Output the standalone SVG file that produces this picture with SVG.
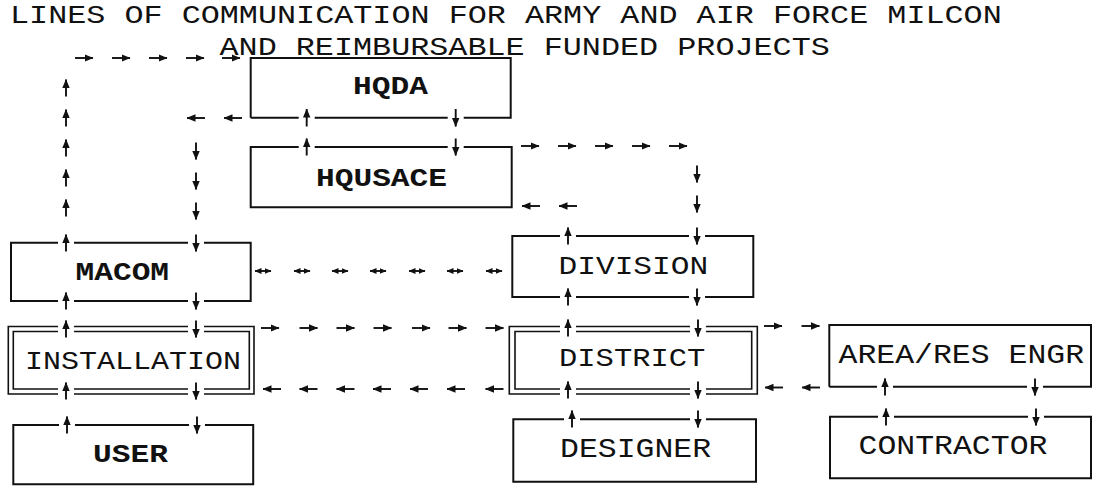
<svg xmlns="http://www.w3.org/2000/svg" width="1093" height="487" viewBox="0 0 1093 487">
<style>
.t{font-family:"Liberation Mono","Courier New",monospace;font-size:31.8px;fill:#111}
.lb{font-family:"Liberation Mono","Courier New",monospace;font-size:31.2px;fill:#111}
.bd{font-weight:bold}
.bx{fill:none;stroke:#111;stroke-width:2}
.db{fill:none;stroke:#111;stroke-width:1.6}
.ar{fill:none;stroke:#111;stroke-width:1.9;marker-end:url(#ah)}
.ar2{fill:none;stroke:#111;stroke-width:1.9;marker-end:url(#ah2);marker-start:url(#ah2)}
</style>
<defs>
<marker id="ah" viewBox="0 0 9 9" refX="8.5" refY="4.5" markerWidth="9" markerHeight="9" markerUnits="userSpaceOnUse" orient="auto-start-reverse"><path d="M0,0.8 L9,4.5 L0,8.2 z" fill="#111"/></marker>
<marker id="ah2" viewBox="0 0 7 7" refX="6.5" refY="3.5" markerWidth="7" markerHeight="7" markerUnits="userSpaceOnUse" orient="auto-start-reverse"><path d="M0,0.6 L7,3.5 L0,6.4 z" fill="#111"/></marker>
</defs>
<rect width="1093" height="487" fill="#fff"/>
<g id="title">
<text class="t" transform="translate(10 23) scale(1 0.82)">LINES OF COMMUNICATION FOR ARMY AND AIR FORCE MILCON</text>
<text class="t" transform="translate(219.5 55) scale(1 0.82)">AND REIMBURSABLE FUNDED PROJECTS</text>
</g>
<g id="hqda">
<path class="bx" d="M250.7 117.7 V58 H510.7 V117.7 H463.7 M447.7 117.7 H314.7 M298.7 117.7 H250.7"/>
<text class="lb bd" transform="translate(353 94) scale(1 0.85)">HQDA</text>
</g>
<g id="hqusace">
<path class="bx" d="M298.7 147 H250.7 V207.3 H511.7 V147 H463.7 M447.7 147 H314.7"/>
<text class="lb bd" transform="translate(316 186) scale(1 0.85)">HQUSACE</text>
</g>
<g id="macom">
<path class="bx" d="M58 242.7 H11 V301 H58 M74 301 H188 M204 301 H250.7 V242.7 H204 M188 242.7 H74"/>
<text class="lb bd" transform="translate(75.5 280) scale(1 0.85)">MACOM</text>
</g>
<g id="division">
<path class="bx" d="M560 236 H512.3 V297 H560 M576 297 H689 M705 297 H753.3 V236 H705 M689 236 H576"/>
<text class="lb" transform="translate(558.5 274) scale(1 0.83)">DIVISION</text>
</g>
<g id="installation">
<path class="db" d="M58 326.5 H8.3 V394 H58 M74 394 H188 M204 394 H254 V326.5 H204 M188 326.5 H74"/>
<path class="db" d="M58 331.5 H13.3 V389 H58 M74 389 H188 M204 389 H249.3 V331.5 H204 M188 331.5 H74"/>
<text class="lb" transform="translate(25 368.5) scale(1 0.85)" style="font-size:30px">INSTALLATION</text>
</g>
<g id="district">
<path class="db" d="M560 326.5 H509.3 V394 H560 M576 394 H690 M706 394 H757.3 V326.5 H706 M690 326.5 H576"/>
<path class="db" d="M560 331.5 H515 V389 H560 M576 389 H690 M706 389 H751.7 V331.5 H706 M690 331.5 H576"/>
<text class="lb" transform="translate(559 366) scale(1 0.85)" style="font-size:30.5px">DISTRICT</text>
</g>
<g id="area-res-engr">
<path class="bx" d="M829.3 386.7 V325 H1091 V386.7 H1043 M1027 386.7 H893 M877 386.7 H829.3"/>
<text class="lb" transform="translate(838.5 363) scale(1 0.85)" style="font-size:31.5px">AREA/RES ENGR</text>
</g>
<g id="user">
<path class="bx" d="M59 425 H13.3 V484.3 H253.2 V425 H205 M189 425 H75"/>
<text class="lb bd" transform="translate(93 462) scale(1 0.85)">USER</text>
</g>
<g id="designer">
<path class="bx" d="M564 419.3 H513.3 V481.7 H756 V419.3 H706 M690 419.3 H580"/>
<text class="lb" transform="translate(560 457) scale(1 0.85)" style="font-size:31.5px">DESIGNER</text>
</g>
<g id="contractor">
<path class="bx" d="M878 416.7 H830 V478.3 H1091 V416.7 H1044 M1028 416.7 H894"/>
<text class="lb" transform="translate(858.5 454) scale(1 0.85)" style="font-size:31.5px">CONTRACTOR</text>
</g>
<g id="connectors">
<path class="ar" d="M75 58H93"/>
<path class="ar" d="M112 58H130"/>
<path class="ar" d="M149 58H167"/>
<path class="ar" d="M186 58H204"/>
<path class="ar" d="M222 58H240"/>
<path class="ar" d="M66 96.5V79.5"/>
<path class="ar" d="M66 126.5V109.5"/>
<path class="ar" d="M66 156.5V139.5"/>
<path class="ar" d="M66 186.5V169.5"/>
<path class="ar" d="M66 216.5V199.5"/>
<path class="ar" d="M66 251.5V234.5"/>
<path class="ar" d="M66 309.5V292.5"/>
<path class="ar" d="M66 337.5V320.5"/>
<path class="ar" d="M66 399.5V382.5"/>
<path class="ar" d="M67 433.5V416.5"/>
<path class="ar" d="M205 118H187"/>
<path class="ar" d="M242 118H224"/>
<path class="ar" d="M196 142.5V159.5"/>
<path class="ar" d="M196 172.5V189.5"/>
<path class="ar" d="M196 202.5V219.5"/>
<path class="ar" d="M196 234.5V251.5"/>
<path class="ar" d="M196 292.5V309.5"/>
<path class="ar" d="M196 320.5V337.5"/>
<path class="ar" d="M196 382.5V399.5"/>
<path class="ar" d="M197 416.5V433.5"/>
<path class="ar" d="M306.7 126.5V109"/>
<path class="ar" d="M455.7 109V126.5"/>
<path class="ar" d="M306.7 155.5V138.5"/>
<path class="ar" d="M455.7 138.5V155.5"/>
<path class="ar" d="M521 146H539"/>
<path class="ar" d="M558 146H576"/>
<path class="ar" d="M595 146H613"/>
<path class="ar" d="M632 146H650"/>
<path class="ar" d="M669 146H687"/>
<path class="ar" d="M697 165.5V182.5"/>
<path class="ar" d="M697 195.5V212.5"/>
<path class="ar" d="M697 227.5V244.5"/>
<path class="ar" d="M540 206H522"/>
<path class="ar" d="M577 206H559"/>
<path class="ar" d="M568 244.5V227.5"/>
<path class="ar" d="M568 305.5V288.5"/>
<path class="ar" d="M697 288.5V305.5"/>
<path class="ar" d="M568 336.5V319.5"/>
<path class="ar" d="M698 319.5V336.5"/>
<path class="ar" d="M568 398.5V381.5"/>
<path class="ar" d="M698 381.5V398.5"/>
<path class="ar" d="M572 427.5V410.5"/>
<path class="ar" d="M698 410.5V427.5"/>
<path class="ar2" d="M255 271H271"/>
<path class="ar2" d="M294 271H310"/>
<path class="ar2" d="M332 271H348"/>
<path class="ar2" d="M370 271H386"/>
<path class="ar2" d="M409 271H425"/>
<path class="ar2" d="M447 271H463"/>
<path class="ar2" d="M486 271H502"/>
<path class="ar" d="M261 328H279"/>
<path class="ar" d="M299.5 328H317.5"/>
<path class="ar" d="M336.5 328H354.5"/>
<path class="ar" d="M373.5 328H391.5"/>
<path class="ar" d="M412 328H430"/>
<path class="ar" d="M448.5 328H466.5"/>
<path class="ar" d="M485.5 328H503.5"/>
<path class="ar" d="M281 389H263"/>
<path class="ar" d="M317.5 389H299.5"/>
<path class="ar" d="M354.5 389H336.5"/>
<path class="ar" d="M391 389H373"/>
<path class="ar" d="M428 389H410"/>
<path class="ar" d="M465 389H447"/>
<path class="ar" d="M503.5 389H485.5"/>
<path class="ar" d="M764 326H782"/>
<path class="ar" d="M801.5 326H819.5"/>
<path class="ar" d="M783 387.5H765"/>
<path class="ar" d="M820 387.5H802"/>
<path class="ar" d="M885 395.5V378.5"/>
<path class="ar" d="M1035 378.5V395.5"/>
<path class="ar" d="M886 425.5V408.5"/>
<path class="ar" d="M1036 408.5V425.5"/>
</g>
</svg>
